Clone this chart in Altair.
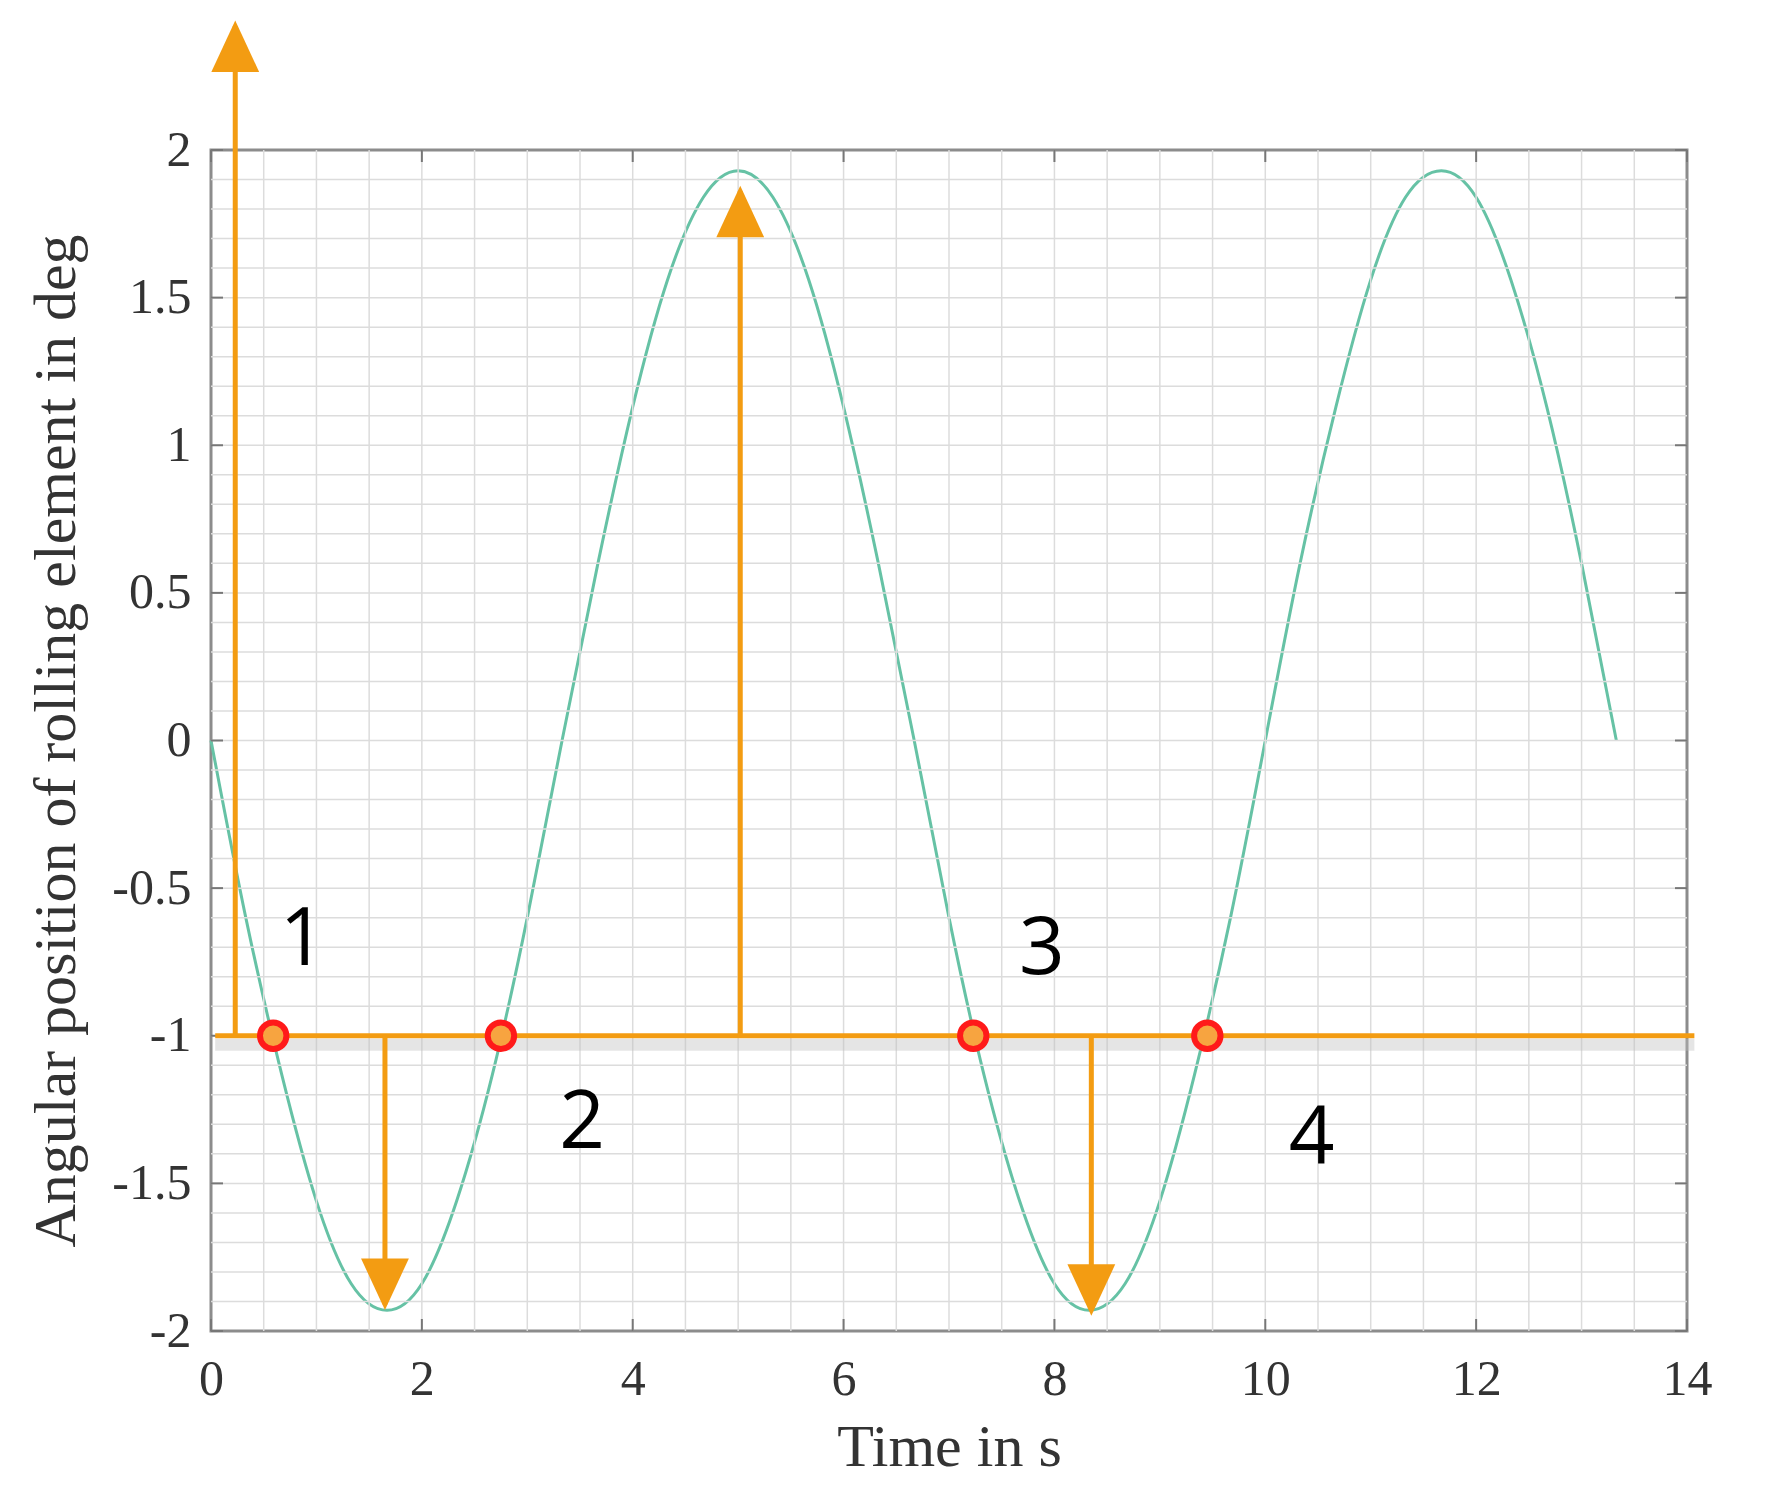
import altair as alt
import pandas as pd

# ---- data ----
TIME = [0.0, 0.33, 0.67, 1.0, 1.33, 1.67, 2.0, 2.33, 2.67, 3.0, 3.33, 3.67, 4.0, 4.33,
        4.67, 5.0, 5.33, 5.67, 6.0, 6.33, 6.67, 7.0, 7.33, 7.67, 8.0, 8.33, 8.67, 9.0,
        9.33, 9.67, 10.0, 10.33, 10.67, 11.0, 11.33, 11.67, 12.0, 12.33, 12.67, 13.0, 13.33]
ANGLE = [0.0, -0.60, -1.13, -1.56, -1.84, -1.93, -1.84, -1.56, -1.13, -0.60, 0.0, 0.60,
         1.13, 1.56, 1.84, 1.93, 1.84, 1.56, 1.13, 0.60, 0.0, -0.60, -1.13, -1.56, -1.84,
         -1.93, -1.84, -1.56, -1.13, -0.60, 0.0, 0.60, 1.13, 1.56, 1.84, 1.93, 1.84, 1.56,
         1.13, 0.60, 0.0]

X_TICKS = [0, 2, 4, 6, 8, 10, 12, 14]
Y_TICKS = [-2, -1.5, -1, -0.5, 0, 0.5, 1, 1.5, 2]
GRID_X = [i * 0.5 for i in range(1, 28)]
GRID_Y = [round(-2 + i * 0.1, 1) for i in range(1, 40)]

SEG_X = [0.23, 0.04, 1.65, 5.02, 8.35]
SEG_Y = [-1, -1, -1, -1, -1]
SEG_X2 = [0.23, 14.07, 1.65, 5.02, 8.35]
SEG_Y2 = [2.42, -1, -1.91, 1.86, -1.93]

HEAD_UP_X = [0.23, 5.02]
HEAD_UP_Y = [2.42, 1.86]
HEAD_DOWN_X = [1.65, 8.35]
HEAD_DOWN_Y = [-1.91, -1.93]

CROSS_X = [0.59, 2.75, 7.23, 9.45]
CROSS_Y = [-1, -1, -1, -1]

LABEL_TEXT = ["1", "2", "3", "4"]
LABEL_X = [0.87, 3.52, 7.88, 10.44]
LABEL_Y = [-0.68, -1.30, -0.71, -1.35]

# ---- style ----
W, H = 1476, 1181
ORANGE = "#f39c12"
TEAL = "#66c2a5"
SERIF = "Liberation Serif"
TXT = "#333333"
TICK_LEN = 12

xs = alt.Scale(domain=[0, 14], nice=False, zero=False)
ys = alt.Scale(domain=[-2, 2], nice=False, zero=False)

curve_df = pd.DataFrame({"t": TIME, "a": ANGLE})
seg_df = pd.DataFrame({"x": SEG_X, "y": SEG_Y, "x2": SEG_X2, "y2": SEG_Y2})
up_df = pd.DataFrame({"x": HEAD_UP_X, "y": HEAD_UP_Y})
down_df = pd.DataFrame({"x": HEAD_DOWN_X, "y": HEAD_DOWN_Y})
cross_df = pd.DataFrame({"x": CROSS_X, "y": CROSS_Y})
lab_df = pd.DataFrame({"x": LABEL_X, "y": LABEL_Y, "text": LABEL_TEXT})
gx_df = pd.DataFrame({"v": GRID_X})
gy_df = pd.DataFrame({"v": GRID_Y})
tx_df = pd.DataFrame({"v": X_TICKS})
ty_df = pd.DataFrame({"v": Y_TICKS})

grid_x = alt.Chart(gx_df).mark_rule(color="#dcdcdc", strokeWidth=1.5).encode(
    x=alt.X("v:Q", scale=xs, axis=None))
grid_y = alt.Chart(gy_df).mark_rule(color="#dcdcdc", strokeWidth=1.5).encode(
    y=alt.Y("v:Q", scale=ys, axis=None))

tick_style = dict(color="#777777", strokeWidth=2)
ticks_bottom = alt.Chart(tx_df).mark_rule(**tick_style).encode(
    x=alt.X("v:Q", scale=xs, axis=None), y=alt.value(H - TICK_LEN), y2=alt.value(H))
ticks_top = alt.Chart(tx_df).mark_rule(**tick_style).encode(
    x=alt.X("v:Q", scale=xs, axis=None), y=alt.value(0), y2=alt.value(TICK_LEN))
ticks_left = alt.Chart(ty_df).mark_rule(**tick_style).encode(
    y=alt.Y("v:Q", scale=ys, axis=None), x=alt.value(0), x2=alt.value(TICK_LEN))
ticks_right = alt.Chart(ty_df).mark_rule(**tick_style).encode(
    y=alt.Y("v:Q", scale=ys, axis=None), x=alt.value(W - TICK_LEN), x2=alt.value(W))

curve = alt.Chart(curve_df).mark_line(color=TEAL, strokeWidth=3, interpolate="natural").encode(
    x=alt.X("t:Q", scale=xs, axis=alt.Axis(
        values=X_TICKS, title="Time in s", ticks=False, domain=False, grid=False,
        labelFlush=False, labelFont=SERIF, labelFontSize=50, labelColor=TXT,
        labelPadding=23, format="d",
        titleFont=SERIF, titleFontSize=60, titleFontWeight="normal", titleColor=TXT,
        titleX=W / 2, titleY=116, titleBaseline="middle")),
    y=alt.Y("a:Q", scale=ys, axis=alt.Axis(
        values=Y_TICKS, title="Angular position of rolling element in deg", ticks=False,
        domain=False, grid=False, labelFont=SERIF, labelFontSize=50, labelColor=TXT,
        labelPadding=20, labelExpr="toString(datum.value)",
        titleFont=SERIF, titleFontSize=60, titleFontWeight="normal", titleColor=TXT,
        titleX=-155, titleY=H / 2, titleBaseline="middle", titleAngle=270)),
)

shadow = alt.Chart(seg_df.iloc[[1]]).mark_rule(color="#bdbdbd", strokeWidth=12, opacity=0.4,
                                               yOffset=9, y2Offset=9).encode(
    x=alt.X("x:Q", scale=xs, axis=None), x2="x2:Q",
    y=alt.Y("y:Q", scale=ys, axis=None), y2="y2:Q")

segs = alt.Chart(seg_df).mark_rule(color=ORANGE, strokeWidth=5).encode(
    x=alt.X("x:Q", scale=xs, axis=None), x2="x2:Q",
    y=alt.Y("y:Q", scale=ys, axis=None), y2="y2:Q")

HEAD_SIZE = (2 * 46) ** 2
heads_up = alt.Chart(up_df).mark_point(shape="M0,-0.12L0.52,1L-0.52,1Z", filled=True, opacity=1,
                                       color=ORANGE, size=HEAD_SIZE).encode(
    x=alt.X("x:Q", scale=xs, axis=None), y=alt.Y("y:Q", scale=ys, axis=None))
heads_down = alt.Chart(down_df).mark_point(shape="M0,0.12L0.52,-1L-0.52,-1Z", filled=True, opacity=1,
                                           color=ORANGE, size=HEAD_SIZE).encode(
    x=alt.X("x:Q", scale=xs, axis=None), y=alt.Y("y:Q", scale=ys, axis=None))

crosses = alt.Chart(cross_df).mark_point(shape="circle", filled=True, fill="#f7a440",
                                         stroke="#ff1a1a", strokeWidth=6, opacity=1,
                                         size=700).encode(
    x=alt.X("x:Q", scale=xs, axis=None), y=alt.Y("y:Q", scale=ys, axis=None))

labels = alt.Chart(lab_df).mark_text(font="Open Sans", fontSize=80, color="black",
                                     baseline="middle", align="center").encode(
    x=alt.X("x:Q", scale=xs, axis=None), y=alt.Y("y:Q", scale=ys, axis=None), text="text:N")

chart = alt.layer(
    curve, grid_x, grid_y, ticks_bottom, ticks_top, ticks_left, ticks_right,
    shadow, segs, heads_up, heads_down, crosses, labels
).resolve_axis(
    x="independent", y="independent"
).properties(
    width=W, height=H, autosize="none",
    padding={"left": 203, "top": 142, "right": 77, "bottom": 163},
    background="white",
).configure_view(stroke="#8c8c8c", strokeWidth=3)

chart.save("out.html", embed_options={"renderer": "svg", "actions": False})
